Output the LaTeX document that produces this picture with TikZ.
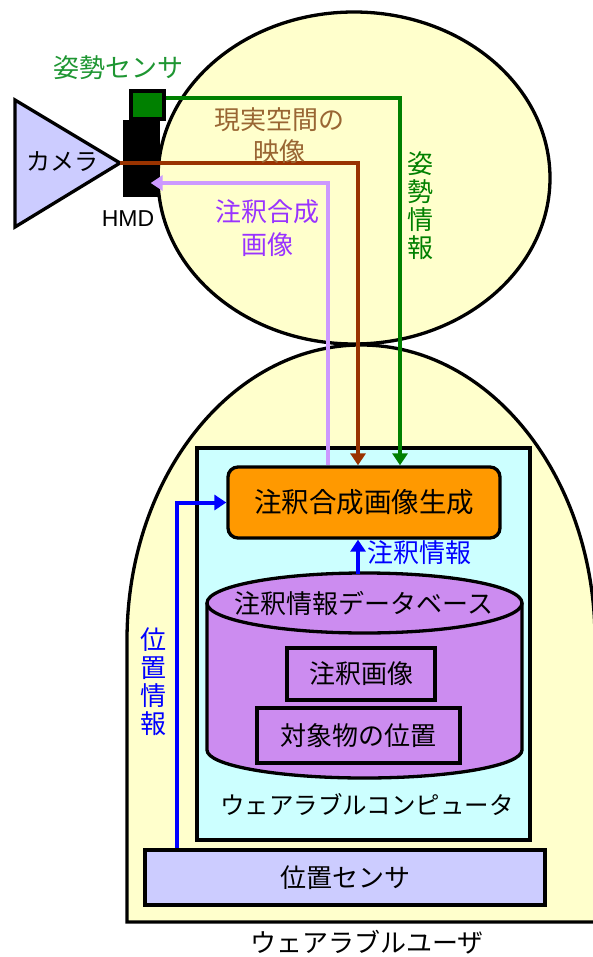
\documentclass[tikz,border=0pt]{standalone}
\usepackage{fontspec}
\newfontfamily\jp{Noto Sans CJK JP}
\newfontfamily\lat{Liberation Sans}
\usetikzlibrary{shapes.geometric,arrows.meta}
\definecolor{skin}{HTML}{FFFFCC}
\definecolor{camfill}{HTML}{CCCCFF}
\definecolor{posegreen}{HTML}{008000}
\definecolor{posetext}{HTML}{1E9632}
\definecolor{vidline}{HTML}{993300}
\definecolor{vidtext}{HTML}{996633}
\definecolor{annline}{HTML}{CC99FF}
\definecolor{anntext}{HTML}{9933FF}
\definecolor{pcfill}{HTML}{CCFFFF}
\definecolor{genfill}{HTML}{FF9900}
\definecolor{dbfill}{HTML}{CC8CF0}
\definecolor{locblue}{HTML}{0000FF}
\tikzset{
  outline/.style={draw=black,line width=3.3pt},
  box/.style={outline,rectangle,inner sep=0pt},
  jtext/.style={font=\jp\fontsize{26}{30}\selectfont,inner sep=0pt},
  vtext/.style={font=\jp\fontsize{26}{28}\selectfont,inner sep=0pt,align=center},
  flow/.style={line width=4pt,-{Triangle[length=12pt,width=15pt]}},
  plain/.style={line width=4pt}
}
\begin{document}
\begin{tikzpicture}[x=1pt,y=-1pt]
\useasboundingbox (0,0) rectangle (592,957);
\fill[white] (0,0) rectangle (592,957);

% body of the wearer
\draw[outline,fill=skin] (127,922) -- (127,640)
  arc[start angle=180,end angle=360,x radius=234,y radius=295]
  -- (595,922) -- cycle;
\node[jtext] (user) at (367,942) {ウェアラブルユーザ};

% head
\node[outline,fill=skin,ellipse,minimum width=392pt,minimum height=332pt,inner sep=0pt] (head) at (354,178) {};

% camera
\coordinate (camtl) at (15,100);
\coordinate (cambl) at (15,227);
\coordinate (camapex) at (120,163);
\draw[outline,fill=camfill,line join=miter] (camtl) -- (camapex) -- (cambl) -- cycle;
\node[jtext,font=\jp\fontsize{24}{28}\selectfont] (cam) at (62,162) {カメラ};

% head-mounted display and pose sensor
\node[box,fill=black,minimum width=33pt,minimum height=73pt] (hmd) at (141.5,158.5) {};
\node[box,fill=posegreen,minimum width=33pt,minimum height=28pt] (pose) at (147.5,105) {};
\node[inner sep=0pt,font=\lat\fontsize{23}{26}\selectfont] (hmdlbl) at (128,219) {HMD};
\node[jtext,text=posetext] (poselbl) at (118,68) {姿勢センサ};

% wearable computer
\node[box,fill=pcfill,minimum width=333pt,minimum height=392pt] (pc) at (363.5,644) {};
\node[jtext,font=\jp\fontsize{24.5}{28}\selectfont] (pclbl) at (367,805) {ウェアラブルコンピュータ};

% annotated image generator
\node[box,fill=genfill,rounded corners=10pt,minimum width=272pt,minimum height=71pt,
      font=\jp\fontsize{27.5}{30}\selectfont] (gen) at (364,502.5) {注釈合成画像生成};

% annotation database (cylinder)
\draw[outline,fill=dbfill] (207,603) -- (207,750)
  arc[start angle=180,end angle=0,x radius=157.5,y radius=28]
  -- (522,603);
\draw[outline,fill=dbfill] (364.5,603) ellipse[x radius=157.5,y radius=30];
\coordinate (dbtop) at (358,574);
\node[jtext] (dblbl) at (364,603) {注釈情報データベース};
\node[box,fill=dbfill,minimum width=148pt,minimum height=52pt,jtext] (annimg) at (361,674) {注釈画像};
\node[box,fill=dbfill,minimum width=203pt,minimum height=55pt,jtext] (objpos) at (358.5,735.5) {対象物の位置};

% position sensor
\node[box,fill=camfill,minimum width=400pt,minimum height=55pt,jtext] (possens) at (345,877.5) {位置センサ};

% pose information
\draw[plain,posegreen,-{Triangle[length=12pt,width=15pt]}]
  ([yshift=7pt]pose.east) -| ([xshift=36pt]gen.north);
\node[vtext,text=posegreen] (poseinfo) at (420,206) {姿\\勢\\情\\報};

% real-space video
\draw[plain,vidline,-{Triangle[length=12pt,width=15pt]}]
  (camapex) -| ([xshift=-6pt]gen.north);
\node[vtext,text=vidtext,font=\jp\fontsize{26}{32}\selectfont] (vidlbl) at (279,136) {現実空間の\\映像};

% annotated composite image back to the display
\draw[plain,annline,-{Triangle[length=12pt,width=15pt]}]
  ([xshift=-36pt]gen.north) |- ([xshift=-9pt,yshift=-24.5pt]hmd.east);
\node[vtext,text=anntext,font=\jp\fontsize{26}{33}\selectfont] (annlbl) at (267,228) {注釈合成\\画像};

% annotation information from the database
\draw[flow,locblue] (dbtop) -- ([xshift=-6pt]gen.south);
\node[jtext,text=locblue] (annfo) at (419,553) {注釈情報};

% position information
\draw[flow,locblue] ([xshift=-168pt]possens.north) |- (gen.west);
\node[vtext,text=locblue] (posinfo) at (153,682) {位\\置\\情\\報};
\end{tikzpicture}
\end{document}
